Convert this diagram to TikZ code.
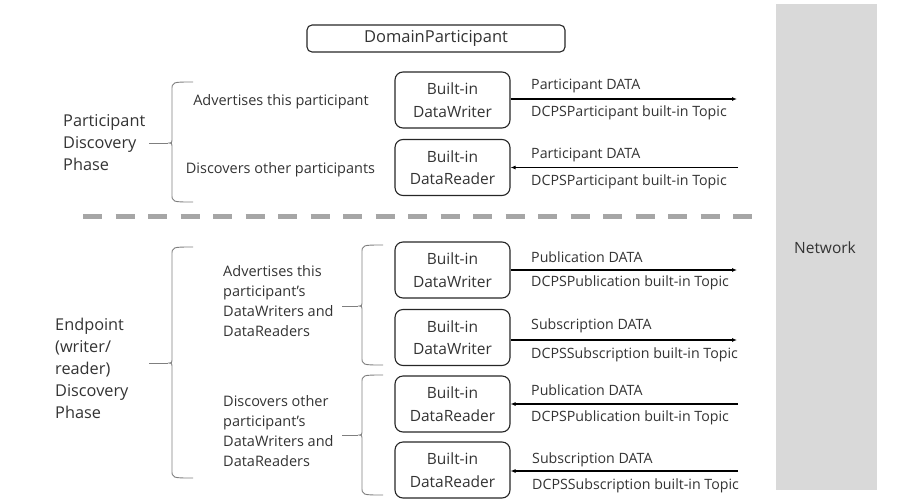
\documentclass[tikz,border=0pt]{standalone}
\usepackage{fontspec}
\setmainfont{Open Sans}
\usetikzlibrary{arrows.meta}
\definecolor{txt}{HTML}{333333}
\definecolor{netgray}{HTML}{D9D9D9}
\definecolor{dashgray}{HTML}{A6A6A6}
\definecolor{bracegray}{HTML}{7F7F7F}
\tikzset{
  bibox/.style={draw=black!85, line width=1.1pt, rounded corners=8pt, minimum width=115pt, minimum height=56pt, align=center, inner sep=0pt, text=txt, font=\fontsize{15.5}{22.5}\selectfont},
  lbl/.style={anchor=west, inner sep=0pt, text=txt, font=\fontsize{14.2}{16}\selectfont},
  phase/.style={anchor=west, inner sep=0pt, align=left, text=txt, font=\fontsize{16.3}{22}\selectfont},
  desc/.style={inner sep=0pt, align=left, text=txt, font=\fontsize{14.5}{20}\selectfont},
  flow/.style={line width=1.1pt, -{Latex[length=5pt,width=4pt]}},
  bracepath/.style={draw=bracegray, line width=0.9pt}
}
\newcommand\mybrace[5]{% tip x, end x, top, mid, bottom
  \draw[bracepath] (#2,#3) .. controls (#1+4,#3) .. (#1+4,#3+8) -- (#1+4,#4-5) .. controls (#1+4,#4) .. (#1,#4) .. controls (#1+4,#4) .. (#1+4,#4+5) -- (#1+4,#5-8) .. controls (#1+4,#5) .. (#2,#5);
}
\begin{document}
\begin{tikzpicture}[x=1pt,y=-1pt]
\useasboundingbox (0,0) rectangle (904,501);
% network
\node[fill=netgray, minimum width=101pt, minimum height=486pt, inner sep=0pt, anchor=north west] (net) at (776,4) {};
\node[text=txt, font=\fontsize{15.5}{18}\selectfont] (nettxt) at (825,248) {Network};
% domain participant
\node[draw=black!85, line width=1.1pt, rounded corners=5pt, minimum width=258pt, minimum height=27pt, inner sep=0pt, text=txt, font=\fontsize{16.5}{18}\selectfont] (dp) at (436,38.5) {DomainParticipant};
% boxes
\node[bibox] (w1) at (452.5,100) {Built-in\\DataWriter};
\node[bibox] (r1) at (452.5,167.5) {Built-in\\DataReader};
\node[bibox] (w2) at (452.5,270) {Built-in\\DataWriter};
\node[bibox] (w3) at (452.5,337.5) {Built-in\\DataWriter};
\node[bibox] (r2) at (452.5,404) {Built-in\\DataReader};
\node[bibox] (r3) at (452.5,470) {Built-in\\DataReader};
% network edge coordinates
\coordinate (e1) at (737,99);
\coordinate (e2) at (738,167.5);
\coordinate (e3) at (737,270);
\coordinate (e4) at (737,340);
\coordinate (e5) at (738,404);
\coordinate (e6) at (738,471);
\draw[flow] (w1.east |- e1) -- (e1);
\draw[flow] (e2) -- (r1.east);
\draw[flow] (w2.east) -- (e3);
\draw[flow] (w3.east |- e4) -- (e4);
\draw[flow] (e5) -- (r2.east);
\draw[flow] (e6) -- (r3.east |- e6);
% labels
\node[lbl] (l1a) at (531,86) {Participant DATA};
\node[lbl] (l1b) at (531,113) {DCPSParticipant built-in Topic};
\node[lbl] (l2a) at (531,155) {Participant DATA};
\node[lbl] (l2b) at (531,182) {DCPSParticipant built-in Topic};
\node[lbl] (l3a) at (531,257) {Publication DATA};
\node[lbl] (l3b) at (531,283) {DCPSPublication built-in Topic};
\node[lbl] (l4a) at (531,326) {Subscription DATA};
\node[lbl] (l4b) at (531,355) {DCPSSubscription built-in Topic};
\node[lbl] (l5a) at (531,390) {Publication DATA};
\node[lbl] (l5b) at (531,418) {DCPSPublication built-in Topic};
\node[lbl] (l6a) at (532,460) {Subscription DATA};
\node[lbl] (l6b) at (532,486) {DCPSSubscription built-in Topic};
% dashed separator
\coordinate (d0) at (83,216);
\coordinate (d1) at (752,216);
\draw[dashgray, line width=5pt, dash pattern=on 19pt off 13.5pt] (d0) -- (d1);
% phase texts
\node[phase] (pdp) at (63,143) {Participant\\Discovery\\Phase};
\node[phase] (edp) at (55,368) {Endpoint\\(writer/\\reader)\\Discovery\\Phase};
\node[desc, anchor=center] (adv1) at (281,102) {Advertises this participant};
\node[desc, anchor=center] (dis1) at (280.5,170) {Discovers other participants};
\node[desc, anchor=west] (adv2) at (223,301) {Advertises this\\participant’s\\DataWriters and\\DataReaders};
\node[desc, anchor=west] (dis2) at (223,431.5) {Discovers other\\participant’s\\DataWriters and\\DataReaders};
% braces
\mybrace{168}{193}{82}{143}{202}
\mybrace{168}{193}{247}{363}{478}
\mybrace{358}{383}{245}{306}{365}
\mybrace{358}{383}{375}{435}{495}
\coordinate (s1) at (149,143);
\coordinate (s1e) at (168,143);
\coordinate (s2) at (149,363);
\coordinate (s2e) at (168,363);
\coordinate (s3) at (342,306);
\coordinate (s3e) at (358,306);
\coordinate (s4) at (342,435);
\coordinate (s4e) at (358,435);
\draw[bracepath] (s1) -- (s1e);
\draw[bracepath] (s2) -- (s2e);
\draw[bracepath] (s3) -- (s3e);
\draw[bracepath] (s4) -- (s4e);
\end{tikzpicture}
\end{document}
